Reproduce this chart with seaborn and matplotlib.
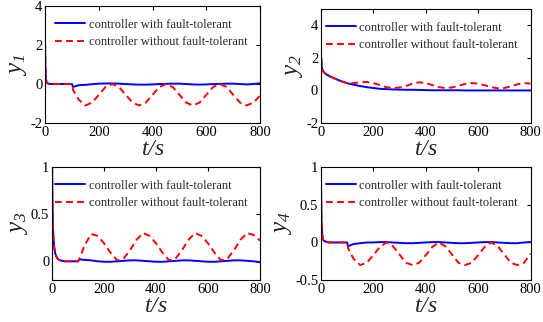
import numpy as np
import pandas as pd
import seaborn as sns
import matplotlib.pyplot as plt

# %% data
t = [0, 1, 2, 3, 5, 8, 12, 20, 30, 50, 75, 100, 104,
     125, 150, 175, 200, 225, 250, 275, 300, 325, 350, 375, 400,
     425, 450, 475, 500, 525, 550, 575, 600, 625, 650, 675, 700,
     725, 750, 775, 800]

y1_ft = [2.0, 1.0, 0.5, 0.3, 0.12, 0.05, 0.02, 0.0, 0.0, 0.0, 0.0, 0.0, -0.15,
         -0.06, -0.04, -0.01, 0.02, 0.03, 0.03, 0.02, 0.0, -0.02, -0.03, -0.03, -0.02,
         0.0, 0.01, 0.02, 0.02, 0.0, -0.02, -0.03, -0.02, 0.0, 0.01, 0.02, 0.02,
         0.0, -0.02, 0.0, 0.04]
y1_noft = [2.0, 1.0, 0.5, 0.3, 0.12, 0.05, 0.02, 0.0, 0.0, 0.0, 0.0, 0.0, -0.3,
           -0.8, -1.1, -0.95, -0.55, -0.15, 0.0, -0.15, -0.55, -0.95, -1.1, -0.95, -0.55,
           -0.15, 0.0, -0.15, -0.55, -0.95, -1.1, -0.95, -0.55, -0.15, 0.0, -0.15, -0.55,
           -0.95, -1.1, -0.95, -0.6]

y2_ft = [0.0, 2.0, 1.6, 1.45, 1.3, 1.2, 1.1, 1.0, 0.9, 0.75, 0.58, 0.45, 0.43,
         0.35, 0.27, 0.2, 0.15, 0.1, 0.08, 0.06, 0.05, 0.04, 0.04, 0.03, 0.02,
         0.01, 0.01, 0.01, 0.01, 0.01, 0.0, 0.0, 0.0, 0.0, 0.0, 0.0, 0.0,
         0.0, 0.0, 0.0, 0.0]
y2_noft = [0.0, 2.0, 1.6, 1.45, 1.3, 1.2, 1.1, 1.0, 0.9, 0.75, 0.58, 0.45, 0.44,
           0.45, 0.5, 0.52, 0.45, 0.33, 0.2, 0.15, 0.18, 0.28, 0.42, 0.5, 0.45,
           0.33, 0.2, 0.15, 0.18, 0.28, 0.4, 0.45, 0.42, 0.32, 0.2, 0.13, 0.15,
           0.25, 0.38, 0.45, 0.42]

y3_ft = [1.0, 0.7, 0.5, 0.38, 0.25, 0.15, 0.08, 0.03, 0.01, 0.0, 0.0, 0.0, 0.02,
         0.015, 0.01, 0.0, -0.005, -0.005, 0.0, 0.005, 0.01, 0.01, 0.005, 0.0, -0.005,
         -0.005, 0.0, 0.005, 0.01, 0.01, 0.005, 0.0, -0.005, -0.005, 0.0, 0.005, 0.01,
         0.01, 0.005, 0.0, -0.01]
y3_noft = [1.0, 0.7, 0.5, 0.38, 0.25, 0.15, 0.08, 0.03, 0.01, 0.0, 0.0, 0.0, 0.02,
           0.17, 0.29, 0.27, 0.19, 0.09, 0.01, 0.03, 0.12, 0.23, 0.3, 0.27, 0.19,
           0.09, 0.01, 0.03, 0.12, 0.23, 0.3, 0.27, 0.19, 0.09, 0.01, 0.03, 0.12,
           0.23, 0.3, 0.28, 0.22]

y4_ft = [1.0, 0.6, 0.35, 0.22, 0.1, 0.04, 0.02, 0.01, 0.0, 0.0, 0.0, 0.0, -0.05,
         -0.02, -0.01, 0.0, 0.0, 0.005, 0.005, 0.0, -0.005, -0.01, -0.01, -0.005, 0.0,
         0.005, 0.005, 0.0, -0.005, -0.01, -0.01, -0.005, 0.0, 0.005, 0.005, 0.0, -0.005,
         -0.01, -0.01, 0.0, 0.005]
y4_noft = [1.0, 0.6, 0.35, 0.22, 0.1, 0.04, 0.02, 0.01, 0.0, 0.0, 0.0, 0.0, -0.08,
           -0.22, -0.3, -0.27, -0.17, -0.06, 0.0, -0.05, -0.16, -0.27, -0.3, -0.27, -0.17,
           -0.06, 0.0, -0.05, -0.16, -0.27, -0.3, -0.27, -0.17, -0.06, 0.0, -0.05, -0.16,
           -0.27, -0.3, -0.27, -0.15]

lab_ft = "controller with fault-tolerant"
lab_noft = "controller without fault-tolerant"

# %% style
sns.set_theme(style="white")
plt.rcParams["font.family"] = ["Liberation Serif", "DejaVu Serif"]
plt.rcParams["mathtext.fontset"] = "custom"
plt.rcParams["mathtext.it"] = "Liberation Serif:italic"
plt.rcParams["mathtext.rm"] = "Liberation Serif:italic"

fig = plt.figure(figsize=(5.43, 3.22), dpi=100)
axes = [
    fig.add_axes([0.083, 0.618, 0.396, 0.363]),
    fig.add_axes([0.591, 0.618, 0.386, 0.354]),
    fig.add_axes([0.096, 0.130, 0.383, 0.351]),
    fig.add_axes([0.591, 0.130, 0.386, 0.351]),
]

panels = [
    (y1_ft, y1_noft, r"$y_1$", (-2, 4), [-2, 0, 2, 4], ["-2", "0", "2", "4"]),
    (y2_ft, y2_noft, r"$y_2$", (-2, 5), [-2, 0, 2, 4], ["-2", "0", "2", "4"]),
    (y3_ft, y3_noft, r"$y_3$", (-0.2, 1), [0, 0.5, 1], ["0", "0.5", "1"]),
    (y4_ft, y4_noft, r"$y_4$", (-0.5, 1), [-0.5, 0, 0.5, 1], ["-0.5", "0", "0.5", "1"]),
]

palette = {lab_ft: "#0000ff", lab_noft: "#ff0000"}
dashes = {lab_ft: "", lab_noft: (3.5, 2.2)}

for ax, (yf, yn, ylab, ylim, yt, ytl) in zip(axes, panels):
    df = pd.DataFrame({
        "t": t + t,
        "y": yf + yn,
        "controller": [lab_ft] * len(t) + [lab_noft] * len(t),
    })
    sns.lineplot(data=df, x="t", y="y", hue="controller", style="controller",
                 palette=palette, dashes=dashes, linewidth=1.4, ax=ax,
                 estimator=None, sort=False)
    ax.set_xlim(0, 800)
    ax.set_ylim(*ylim)
    ax.set_xticks([0, 200, 400, 600, 800])
    ax.set_yticks(yt)
    ax.set_yticklabels(ytl)
    ax.tick_params(direction="in", length=3, width=0.8, labelsize=10.5,
                   top=True, right=True, pad=2, colors="black")
    for s in ax.spines.values():
        s.set_color("black")
        s.set_linewidth(0.8)
    ax.set_xlabel(r"$t/s$", fontsize=17, labelpad=0)
    ax.set_ylabel(ylab, fontsize=18, labelpad=1)
    ax.legend(frameon=False, loc="upper right", bbox_to_anchor=(1.0, 1.0),
              fontsize=9, handlelength=2.4, handletextpad=0.3,
              labelspacing=0.45, borderaxespad=0.6, title=None)

fig.savefig("out.png", dpi=100)
